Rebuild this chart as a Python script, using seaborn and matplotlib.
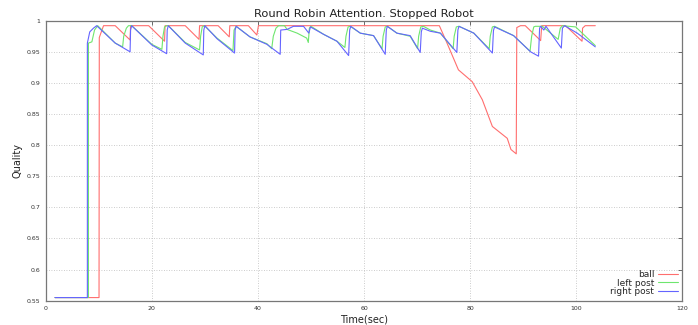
import numpy as np
import pandas as pd
import matplotlib.pyplot as plt
import seaborn as sns

# ==========================
# Data
# ==========================
ball_t = [1.75, 10.05, 10.1, 10.9, 13.1, 15.9, 16.0, 19.4, 22.4, 22.5, 26.3, 28.9, 29.0,
          32.5, 34.6, 34.7, 38.2, 39.8, 40.1, 74.2, 75.6, 77.8, 80.4, 82.3, 84.2, 87.0,
          87.7, 88.7, 88.8, 89.5, 90.4, 93.3, 93.5, 98.0, 101.1, 101.2, 101.7, 103.6]
ball_q = [0.555, 0.555, 0.973, 0.992, 0.992, 0.969, 0.992, 0.992, 0.967, 0.992, 0.992, 0.970, 0.992,
          0.992, 0.974, 0.992, 0.992, 0.977, 0.992, 0.992, 0.965, 0.921, 0.902, 0.873, 0.830, 0.811,
          0.793, 0.786, 0.989, 0.992, 0.992, 0.968, 0.992, 0.992, 0.967, 0.988, 0.992, 0.992]

left_t = [1.75, 8.05, 8.05, 8.7, 9.2, 9.8, 13.1, 14.5, 14.7, 15.2, 15.6, 16.2, 20.0, 21.9,
          22.1, 22.4, 22.8, 23.1, 26.3, 29.0, 29.2, 29.5, 29.9, 32.3, 35.3, 35.5, 35.9,
          38.5, 41.7, 42.6, 42.9, 43.4, 43.9, 45.0, 45.5, 47.4, 49.2, 49.5, 49.7, 50.0,
          52.4, 54.9, 56.4, 56.6, 57.0, 57.4, 59.3, 61.8, 63.4, 63.6, 64.0, 64.4, 66.2,
          68.7, 70.1, 70.3, 70.7, 71.2, 72.5, 74.4, 76.8, 77.0, 77.4, 77.9, 80.7, 83.6,
          83.8, 84.2, 84.6, 88.2, 91.3, 91.6, 92.0, 92.3, 93.6, 96.6, 97.0, 97.4, 99.9,
          103.6]
left_q = [0.555, 0.555, 0.964, 0.966, 0.985, 0.992, 0.964, 0.958, 0.975, 0.988, 0.992, 0.992, 0.962, 0.954,
          0.975, 0.990, 0.992, 0.992, 0.965, 0.953, 0.975, 0.990, 0.992, 0.972, 0.952, 0.985, 0.991,
          0.974, 0.963, 0.955, 0.975, 0.988, 0.992, 0.992, 0.986, 0.980, 0.972, 0.965, 0.988, 0.991,
          0.978, 0.967, 0.957, 0.975, 0.990, 0.991, 0.980, 0.976, 0.955, 0.975, 0.990, 0.991, 0.980,
          0.975, 0.955, 0.975, 0.990, 0.991, 0.985, 0.980, 0.955, 0.975, 0.990, 0.991, 0.980, 0.955,
          0.975, 0.990, 0.991, 0.976, 0.951, 0.975, 0.990, 0.991, 0.991, 0.970, 0.988, 0.992, 0.990,
          0.960]

right_t = [1.75, 7.85, 7.85, 8.3, 9.0, 9.6, 13.1, 15.9, 16.0, 16.2, 20.0, 22.8, 22.9, 23.1,
           26.3, 29.7, 29.8, 30.0, 32.3, 35.6, 35.7, 35.9, 38.5, 41.7, 44.2, 44.3, 45.5,
           46.7, 48.6, 49.6, 49.9, 52.4, 54.9, 57.1, 57.3, 57.5, 59.3, 61.8, 64.0, 64.2,
           64.4, 66.2, 68.7, 70.6, 70.8, 71.0, 72.5, 74.4, 77.5, 77.7, 77.9, 80.7, 84.2,
           84.4, 84.6, 88.2, 91.4, 92.9, 93.1, 93.3, 93.9, 94.3, 97.2, 97.4, 97.8, 100.2,
           103.6]
right_q = [0.555, 0.555, 0.964, 0.982, 0.988, 0.992, 0.964, 0.950, 0.985, 0.992, 0.961, 0.947, 0.985, 0.992,
           0.964, 0.945, 0.985, 0.992, 0.971, 0.948, 0.985, 0.991, 0.974, 0.962, 0.946, 0.985, 0.986,
           0.991, 0.991, 0.980, 0.990, 0.978, 0.967, 0.944, 0.985, 0.991, 0.980, 0.976, 0.946, 0.985,
           0.991, 0.980, 0.976, 0.949, 0.982, 0.988, 0.983, 0.980, 0.949, 0.985, 0.991, 0.980, 0.948,
           0.984, 0.990, 0.976, 0.950, 0.943, 0.988, 0.991, 0.985, 0.991, 0.956, 0.988, 0.992, 0.980,
           0.958]

series_names = ["ball", "left post", "right post"]
series_colors = ["#ff6e6e", "#6ee66e", "#6464ff"]

x_ticks = [0, 20, 40, 60, 80, 100, 120]
y_ticks = [0.55, 0.6, 0.65, 0.7, 0.75, 0.8, 0.85, 0.9, 0.95, 1.0]
y_tick_labels = ["0.55", "0.6", "0.65", "0.7", "0.75", "0.8", "0.85", "0.9", "0.95", "1"]

# long-form table for seaborn
frames = []
for name, t, q in zip(series_names, [ball_t, left_t, right_t], [ball_q, left_q, right_q]):
    frames.append(pd.DataFrame({"Time": t, "Quality": q, "Object": name}))
df = pd.concat(frames, ignore_index=True)

# ==========================
# Plot
# ==========================
sns.set_style("white")
plt.rcParams['font.family'] = ['DejaVu Sans']

fig = plt.figure(figsize=(6.98, 3.25), dpi=100)
ax = fig.add_axes([0.0655, 0.0748, 0.912, 0.8615])

sns.lineplot(data=df, x="Time", y="Quality", hue="Object", hue_order=series_names,
             palette=dict(zip(series_names, series_colors)), estimator=None, sort=False,
             linewidth=0.8, ax=ax)

ax.set_xlim(0, 120)
ax.set_ylim(0.55, 1.0)
ax.set_xticks(x_ticks)
ax.set_xticklabels([str(v) for v in x_ticks])
ax.set_yticks(y_ticks)
ax.set_yticklabels(y_tick_labels)
ax.tick_params(axis='both', direction='in', labelsize=4.5, length=3, width=0.6,
               colors='#555555', labelcolor='#333333', top=True, right=True, pad=4)
ax.grid(True, linestyle=(0, (1, 2)), color='#bbbbbb', linewidth=0.6)
for s in ax.spines.values():
    s.set_color('#777777')
    s.set_linewidth(0.9)

ax.set_title("Round Robin Attention. Stopped Robot", fontsize=8.2, color='#222222', pad=3)
ax.set_xlabel("Time(sec)", fontsize=7, color='#222222', labelpad=2)
ax.set_ylabel("Quality", fontsize=7, color='#222222', labelpad=3)

leg = ax.legend(loc='lower right', frameon=False, fontsize=6.5, markerfirst=False,
                labelspacing=-0.05, handlelength=2.2, handletextpad=0.4,
                borderaxespad=0.1)

fig.savefig("out.png", dpi=100)
